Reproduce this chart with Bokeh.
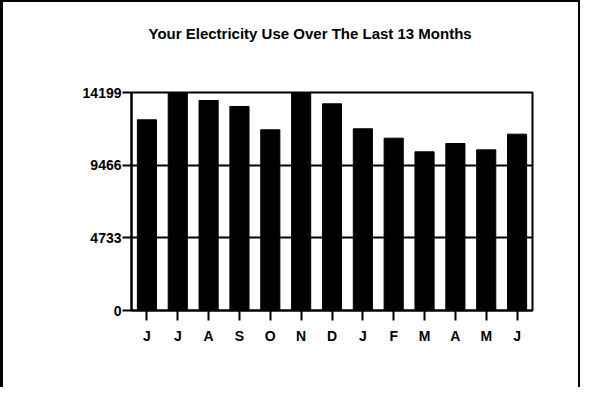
from bokeh.plotting import figure
from bokeh.models import Range1d, FixedTicker, ColumnDataSource
from bokeh.embed import file_html
from bokeh.resources import INLINE

# ---- data ----
months = ["J", "J", "A", "S", "O", "N", "D", "J", "F", "M", "A", "M", "J"]
usage = [12421, 14199, 13678, 13287, 11769, 14199, 13463, 11834, 11224, 10335, 10877, 10465, 11485]
y_ticks = [0, 4733, 9466, 14199]
title_text = "Your Electricity Use Over The Last 13 Months"

positions = list(range(1, len(months) + 1))
src = ColumnDataSource(dict(x=positions, top=usage))

FONT = "Liberation Sans"

p = figure(width=580, height=387, output_backend="svg", toolbar_location=None,
           x_range=Range1d(0.5, len(months) + 0.5), y_range=Range1d(0, y_ticks[-1]),
           min_border_left=131, min_border_right=48, min_border_top=92, min_border_bottom=77)

p.vbar(x="x", top="top", bottom=0, width=0.62, source=src,
       fill_color="black", line_color="black")

p.outline_line_color = "black"
p.outline_line_width = 2
p.background_fill_color = "white"
p.border_fill_color = "white"
p.border_fill_alpha = 0.0

# title (trailing blank lines lift it well above the plot frame)
p.title.text = title_text + "\n\u00a0\n\u00a0"
p.title.align = "left"
p.title.offset = 17
p.title.standoff = 34
p.title.text_font = FONT
p.title.text_font_style = "bold"
p.title.text_font_size = "15px"
p.title.text_color = "black"

# y axis
p.yaxis.ticker = FixedTicker(ticks=y_ticks)
p.yaxis.minor_tick_line_color = None
p.yaxis.major_tick_in = 0
p.yaxis.major_tick_out = 9
p.yaxis.major_tick_line_width = 2
p.yaxis.major_tick_line_color = "black"
p.yaxis.axis_line_width = 2
p.yaxis.axis_line_color = "black"
p.yaxis.major_label_standoff = 1
p.yaxis.major_label_text_font = FONT
p.yaxis.major_label_text_font_style = "bold"
p.yaxis.major_label_text_font_size = "14px"
p.yaxis.major_label_text_color = "black"

# x axis
p.xaxis.ticker = FixedTicker(ticks=positions)
p.xaxis.major_label_overrides = {i: m for i, m in zip(positions, months)}
p.xaxis.minor_tick_line_color = None
p.xaxis.major_tick_in = 0
p.xaxis.major_tick_out = 10
p.xaxis.major_tick_line_width = 2
p.xaxis.major_tick_line_color = "black"
p.xaxis.axis_line_width = 2
p.xaxis.axis_line_color = "black"
p.xaxis.major_label_standoff = 7
p.xaxis.major_label_text_font = FONT
p.xaxis.major_label_text_font_style = "bold"
p.xaxis.major_label_text_font_size = "14px"
p.xaxis.major_label_text_color = "black"

# grid
p.xgrid.grid_line_color = None
p.ygrid.ticker = FixedTicker(ticks=y_ticks)
p.ygrid.grid_line_color = "black"
p.ygrid.grid_line_width = 2
p.ygrid.level = "overlay"

# outer page border (open at the bottom, as in the scanned original)
p.styles = {"box-shadow": "inset 3px 0 0 0 black, inset -2px 0 0 0 black, inset 0 2px 0 0 black"}

open("out.html", "w").write(file_html(p, INLINE))
